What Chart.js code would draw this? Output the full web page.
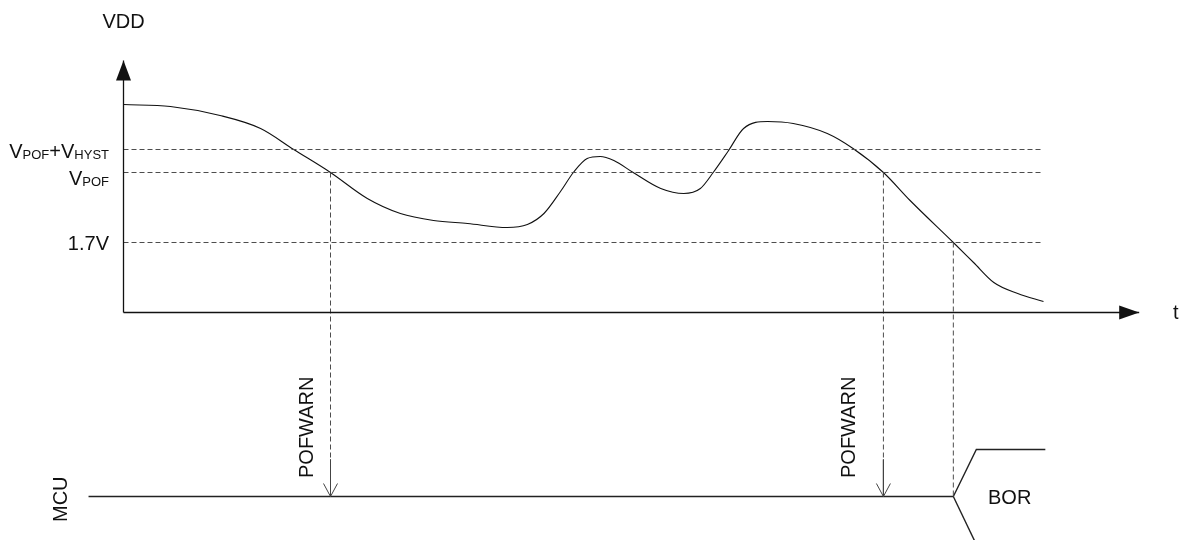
<!DOCTYPE html>
<html>
<head>
<meta charset="utf-8">
<script src="https://cdn.jsdelivr.net/npm/chart.js@4.4.0/dist/chart.umd.min.js"></script>
<style>
    html, body { margin: 0; padding: 0; background: #fff; }
    #wrap { width: 1183px; height: 540px; position: relative; }
</style>
</head>
<body>
<div id="wrap"><canvas id="c"></canvas></div>
<script>
// VDD trace (time 0..100, volts)
const vddTime  = [0, 5.1, 10.5, 14.9, 18.5, 22.5, 26.5, 30.1, 33.7, 37.4, 41.7, 43.9, 45.7, 47.5, 48.9, 50.4, 51.8, 53.3, 55.4, 58.4, 60.9, 62.7, 64.1, 65.7, 67.4, 70.0, 72.8, 76.5, 79.3, 82.6, 85.5, 90.2, 92.4, 94.6, 97.2, 100];
const vddVolts = [3.08, 3.06, 2.97, 2.84, 2.63, 2.40, 2.14, 1.99, 1.92, 1.89, 1.85, 1.88, 1.99, 2.21, 2.40, 2.54, 2.56, 2.52, 2.40, 2.24, 2.19, 2.24, 2.40, 2.61, 2.84, 2.91, 2.89, 2.79, 2.64, 2.40, 2.12, 1.70, 1.50, 1.30, 1.19, 1.11];

// threshold levels (VPOF+VHYST, VPOF, 1.7V)
const thresholdVolts = [2.63, 2.40, 1.70];
const thresholdLabels = [
    [['V', false], ['POF', true], ['+V', false], ['HYST', true]],
    [['V', false], ['POF', true]],
    [['1.7V', false]]
];

// events on the time axis
const pofwarnTimes = [22.5, 82.6];
const borTime = 90.2;

// MCU lane (drawn below the VDD plot on the same scale)
const mcuStart = -3.8;
const mcuLevel = -0.84;
const dashEnd = -0.47;
const borHigh = -0.37;
const borLow = -1.32;
const borRise = 2.5;
const borEnd = 100.2;

// axes extent
const tMax = 110.4;
const vTop = 3.52;
const vAxisBase = 1.0;

// layout calibration
const W = 1183, H = 540;
const T0_PX = 123.5, PX_PER_T = 9.2;
const VBASE_PX = 312.5, PX_PER_V = 100;

const DASH = [5, 3];
const DASH_GRAY = '#4d4d4d';
const FONT = '"Liberation Sans", Arial, sans-serif';
const MAIN_PX = 20, SUB_PX = 13;

const datasets = [];

// axes
datasets.push({
    data: [{ x: 0, y: vAxisBase }, { x: 0, y: vTop }],
    borderColor: '#111', borderWidth: 1.3,
    arrow: { len: 20, half: 7.5, filled: true }
});
datasets.push({
    data: [{ x: 0, y: vAxisBase }, { x: tMax, y: vAxisBase }],
    borderColor: '#111', borderWidth: 1.3,
    arrow: { len: 20, half: 7, filled: true }
});

// threshold lines
thresholdVolts.forEach(v => {
    datasets.push({
        data: [{ x: 0, y: v }, { x: 100, y: v }],
        borderColor: DASH_GRAY, borderWidth: 1, borderDash: DASH
    });
});

// POFWARN drop lines: dashed part, then solid arrow into the MCU line
pofwarnTimes.forEach(t => {
    datasets.push({
        data: [{ x: t, y: thresholdVolts[1] }, { x: t, y: dashEnd }],
        borderColor: DASH_GRAY, borderWidth: 1, borderDash: DASH
    });
    datasets.push({
        data: [{ x: t, y: dashEnd }, { x: t, y: mcuLevel }],
        borderColor: '#444', borderWidth: 1,
        arrow: { len: 13, half: 7, filled: false }
    });
});

// BOR drop line
datasets.push({
    data: [{ x: borTime, y: thresholdVolts[2] }, { x: borTime, y: mcuLevel }],
    borderColor: DASH_GRAY, borderWidth: 1, borderDash: DASH
});

// VDD curve
datasets.push({
    data: vddTime.map((t, i) => ({ x: t, y: vddVolts[i] })),
    borderColor: '#111', borderWidth: 1.1,
    cubicInterpolationMode: 'monotone'
});

// MCU line + BOR
datasets.push({
    data: [{ x: mcuStart, y: mcuLevel }, { x: borTime, y: mcuLevel }],
    borderColor: '#222', borderWidth: 1.4
});
datasets.push({
    data: [{ x: borTime, y: mcuLevel }, { x: borTime + borRise, y: borHigh }, { x: borEnd, y: borHigh }],
    borderColor: '#222', borderWidth: 1.4
});
datasets.push({
    data: [{ x: borTime, y: mcuLevel }, { x: borTime + borRise, y: borLow }],
    borderColor: '#222', borderWidth: 1.4
});

datasets.forEach(d => {
    d.pointRadius = 0;
    d.fill = false;
    d.clip = false;
    if (d.tension === undefined) d.tension = 0;
});

const arrowPlugin = {
    id: 'arrows',
    afterDatasetsDraw(chart) {
        const ctx = chart.ctx;
        chart.data.datasets.forEach((ds, i) => {
            if (!ds.arrow) return;
            const pts = chart.getDatasetMeta(i).data;
            const a = pts[pts.length - 2], b = pts[pts.length - 1];
            const ang = Math.atan2(b.y - a.y, b.x - a.x);
            const { len, half, filled } = ds.arrow;
            const bx = b.x - Math.cos(ang) * len, by = b.y - Math.sin(ang) * len;
            const nx = -Math.sin(ang) * half, ny = Math.cos(ang) * half;
            ctx.save();
            ctx.beginPath();
            ctx.moveTo(bx + nx, by + ny);
            ctx.lineTo(b.x, b.y);
            ctx.lineTo(bx - nx, by - ny);
            if (filled) {
                ctx.closePath();
                ctx.fillStyle = ds.borderColor;
                ctx.fill();
            } else {
                ctx.strokeStyle = ds.borderColor;
                ctx.lineWidth = ds.borderWidth;
                ctx.stroke();
            }
            ctx.restore();
        });
    }
};

function setFont(ctx, sub) {
    ctx.font = (sub ? SUB_PX : MAIN_PX) + 'px ' + FONT;
}

function drawRich(ctx, parts, right, base) {
    let w = 0;
    parts.forEach(([s, sub]) => { setFont(ctx, sub); w += ctx.measureText(s).width; });
    let x = right - w;
    parts.forEach(([s, sub]) => {
        setFont(ctx, sub);
        ctx.fillText(s, x, base + (sub ? 1 : 0));
        x += ctx.measureText(s).width;
    });
}

function rotated(ctx, text, x, y) {
    ctx.save();
    ctx.translate(x, y);
    ctx.rotate(-Math.PI / 2);
    ctx.textAlign = 'left';
    ctx.fillText(text, 0, 0);
    ctx.restore();
}

const labelPlugin = {
    id: 'labels',
    afterDraw(chart) {
        const ctx = chart.ctx;
        const xs = chart.scales.x, ys = chart.scales.y;
        ctx.save();
        ctx.fillStyle = '#111';
        ctx.textBaseline = 'alphabetic';
        const baseShift = [8, 12, 7.5];
        thresholdVolts.forEach((v, i) => {
            drawRich(ctx, thresholdLabels[i], 109, ys.getPixelForValue(v) + baseShift[i]);
        });
        setFont(ctx, false);
        ctx.textAlign = 'center';
        ctx.fillText('VDD', xs.getPixelForValue(0), 28);
        ctx.textAlign = 'left';
        ctx.fillText('t', 1173, 319);
        ctx.fillText('BOR', 988, ys.getPixelForValue(mcuLevel) + 7);
        rotated(ctx, 'MCU', 67, 522);
        const pofOffset = [18, 28];
        pofwarnTimes.forEach((t, i) => {
            rotated(ctx, 'POFWARN', xs.getPixelForValue(t) - pofOffset[i], 478);
        });
        ctx.restore();
    }
};

new Chart(document.getElementById('c'), {
    type: 'line',
    data: { datasets },
    options: {
        responsive: true,
        maintainAspectRatio: false,
        animation: false,
        layout: { padding: 0 },
        plugins: { legend: { display: false }, tooltip: { enabled: false } },
        scales: {
            x: {
                type: 'linear', display: false,
                min: -T0_PX / PX_PER_T,
                max: (W - T0_PX) / PX_PER_T
            },
            y: {
                type: 'linear', display: false,
                min: vAxisBase - (H - VBASE_PX) / PX_PER_V,
                max: vAxisBase + VBASE_PX / PX_PER_V
            }
        }
    },
    plugins: [arrowPlugin, labelPlugin]
});
</script>
</body>
</html>
